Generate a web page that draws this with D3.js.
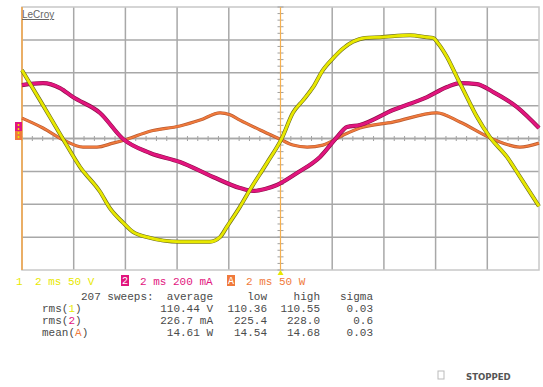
<!DOCTYPE html>
<html><head><meta charset="utf-8">
<script src="https://cdn.jsdelivr.net/npm/d3@7"></script>
<style>body{margin:0;background:#fff}svg{display:block}</style>
</head><body>
<script>
// Trace 1: voltage (V), time in ms
const timeV = [0,0.70,1.59,2.24,3.02,3.40,3.91,4.29,4.84,6.11,7.27,7.66,7.93,8.43,8.82,9.48,10.06,10.48,10.87,11.26,11.64,12.03,12.42,12.80,13.27,13.85,15.01,15.67,15.90,16.09,16.44,16.83,17.21,17.60,18.10,18.76,19.26,20];
const voltage = [104,58,-1,-43,-81,-106,-128,-142,-150,-157,-157,-150,-134,-104,-78,-37,1,39,58,78,104,122,137,147,153,154,157,154,153,145,124,93,63,33,2,-28,-58,-103];
// Trace 2: current (mA)
const timeI = [0,0.81,1.47,1.97,3.02,3.91,4.95,6.11,7.39,8.43,8.94,9.40,9.86,10.64,11.53,12.19,12.57,13.07,14.35,15.67,16.44,16.94,17.60,18.22,19.15,20];
const current = [325,337,307,252,155,-3,-88,-143,-234,-301,-319,-307,-283,-210,-112,9,70,82,173,252,313,337,331,283,191,64];
// Trace A: power (W)
const timeP = [0,0.81,1.59,2.36,2.90,3.52,4.06,4.95,6.11,6.89,7.66,8.05,8.43,9.21,9.98,10.48,11.03,11.64,12.42,13.07,14.35,16.05,16.94,18.22,19.26,20];
const power = [31,16,-2,-13,-13,-7,-1,11,19,28,39,36,28,13,-1,-10,-13,-10,5,16,25,39,25,-1,-13,-7];

const channelLabels = ["2 ms 50 V", "2 ms 200 mA", "2 ms 50 W"];
const measHeader = ["207 sweeps:  average", "low", "high", "sigma"];
const measNames = [["rms(", "1", ")"], ["rms(", "2", ")"], ["mean(", "A", ")"]];
const measAverage = ["110.44 V", "226.7 mA", "14.61 W"];
const measLow = ["110.36", "225.4", "14.54"];
const measHigh = ["110.55", "228.0", "14.68"];
const measSigma = ["0.03", "0.6", "0.03"];

const W = 543, H = 387;
const cYel = "#e8e800", cMag = "#e2157e", cOra = "#f07a3c", cTxt = "#4a4a4a";
const svg = d3.select("body").append("svg").attr("width", W).attr("height", H);
svg.append("rect").attr("width", W).attr("height", H).attr("fill", "#fff");

const x = d3.scaleLinear().domain([0, 20]).range([22, 539]);
const yV = d3.scaleLinear().domain([-200, 200]).range([270, 7]);
const yI = d3.scaleLinear().domain([-800, 800]).range([270, 7]);
const yP = d3.scaleLinear().domain([-200, 200]).range([270, 7]);

// grid
const g = svg.append("g");
d3.range(1, 10).forEach(i => {
  if (i === 5) return;
  g.append("line").attr("x1", x(i*2)).attr("x2", x(i*2)).attr("y1", yV(200)).attr("y2", yV(-200))
    .attr("stroke", "#a8a8a8").attr("stroke-width", 1.5);
});
d3.range(-3, 4).forEach(j => {
  g.append("line").attr("x1", x(0)).attr("x2", x(20)).attr("y1", yV(j*50)).attr("y2", yV(j*50))
    .attr("stroke", "#a8a8a8").attr("stroke-width", 1.5);
});
// frame
g.append("rect").attr("x", x(0)).attr("y", yV(200)).attr("width", x(20)-x(0)).attr("height", yV(-200)-yV(200))
  .attr("fill", "none").attr("stroke", "#c8c8c8").attr("stroke-width", 1.5);
// center minor ticks
d3.range(0, 20.001, 0.4).forEach(t => {
  g.append("line").attr("x1", x(t)).attr("x2", x(t)).attr("y1", yV(0)-2.5).attr("y2", yV(0)+2.5)
    .attr("stroke", "#a0a0a0").attr("stroke-width", 1);
});
d3.range(-200, 200.001, 10).forEach(v => {
  g.append("line").attr("x1", x(10)-3).attr("x2", x(10)+3).attr("y1", yV(v)).attr("y2", yV(v))
    .attr("stroke", "#a0a0a0").attr("stroke-width", 1);
});
// center horizontal axis
g.append("line").attr("x1", x(0)).attr("x2", x(20)).attr("y1", yV(0)).attr("y2", yV(0))
  .attr("stroke", "#a8a8a8").attr("stroke-width", 1.5);
// trigger line (orange) at center and left edge orange
g.append("line").attr("x1", x(10)).attr("x2", x(10)).attr("y1", yV(200)).attr("y2", yV(-200))
  .attr("stroke", "#f5b050").attr("stroke-width", 1.2);
g.append("line").attr("x1", x(0)).attr("x2", x(0)).attr("y1", yV(200)).attr("y2", yV(-200))
  .attr("stroke", "#f0a040").attr("stroke-width", 1.5);

// traces
function trace(ts, vs, ys, color, dark, w) {
  const line = d3.line().x((d, i) => x(ts[i])).y(d => ys(d)).curve(d3.curveMonotoneX);
  svg.append("path").datum(vs).attr("d", line).attr("fill", "none").attr("stroke", dark)
    .attr("stroke-width", w + 1.2).attr("stroke-linejoin", "round");
  svg.append("path").datum(vs).attr("d", line).attr("fill", "none").attr("stroke", color)
    .attr("stroke-width", w).attr("stroke-linejoin", "round");
}
trace(timeP, power, yP, cOra, "#b85a30", 2);
trace(timeI, current, yI, cMag, "#8a1048", 3);
trace(timeV, voltage, yV, cYel, "#6a6a20", 2.8);

// left marker
svg.append("rect").attr("x", 15).attr("y", 122).attr("width", 7).attr("height", 9).attr("fill", cMag);
svg.append("rect").attr("x", 15).attr("y", 131).attr("width", 7).attr("height", 9).attr("fill", cOra);
svg.append("line").attr("x1", 18.5).attr("x2", 18.5).attr("y1", 124).attr("y2", 139)
  .attr("stroke", cYel).attr("stroke-width", 1.5).attr("stroke-dasharray", "2,2");
// trigger triangle
svg.append("path").attr("d", `M${x(10)-3},275 L${x(10)+3},275 L${x(10)},270 Z`).attr("fill", cYel);

// LeCroy
svg.append("text").attr("x", 22).attr("y", 18).text("LeCroy")
  .attr("font-family", "Liberation Sans, Arial, sans-serif").attr("font-size", 10)
  .attr("fill", "#666").attr("text-decoration", "underline");

const mono = "Liberation Mono, DejaVu Sans Mono, monospace";
function txt(xp, yp, s, color, anchor) {
  return svg.append("text").attr("x", xp).attr("y", yp).text(s).attr("font-family", mono)
    .attr("font-size", 11).attr("fill", color).attr("text-anchor", anchor || "start");
}
// channel row
txt(16, 285, "1", cYel);
txt(35, 285, channelLabels[0], cYel);
svg.append("rect").attr("x", 121).attr("y", 275).attr("width", 8).attr("height", 11).attr("fill", cMag);
txt(125, 284, "2", "#fff", "middle").attr("font-size", 10);
txt(140, 285, channelLabels[1], cMag);
svg.append("rect").attr("x", 227).attr("y", 275).attr("width", 8).attr("height", 11).attr("fill", cOra);
txt(231, 284, "A", "#fff", "middle").attr("font-size", 10);
txt(246, 285, channelLabels[2], cOra);

// measurements
const colEnds = [213, 267, 320, 373];
txt(colEnds[0], 300, measHeader[0], cTxt, "end").attr("xml:space", "preserve").style("white-space", "pre");
txt(colEnds[1], 300, measHeader[1], cTxt, "end");
txt(colEnds[2], 300, measHeader[2], cTxt, "end");
txt(colEnds[3], 300, measHeader[3], cTxt, "end");
const chColors = [cYel, cMag, cOra];
measNames.forEach((nm, i) => {
  const yb = 312 + i * 12;
  const t = svg.append("text").attr("x", 42).attr("y", yb).attr("font-family", mono).attr("font-size", 11);
  t.append("tspan").text(nm[0]).attr("fill", cTxt);
  t.append("tspan").text(nm[1]).attr("fill", chColors[i]);
  t.append("tspan").text(nm[2]).attr("fill", cTxt);
  txt(colEnds[0], yb, measAverage[i], cTxt, "end");
  txt(colEnds[1], yb, measLow[i], cTxt, "end");
  txt(colEnds[2], yb, measHigh[i], cTxt, "end");
  txt(colEnds[3], yb, measSigma[i], cTxt, "end");
});

// STOPPED
svg.append("rect").attr("x", 438).attr("y", 371).attr("width", 6).attr("height", 8)
  .attr("fill", "none").attr("stroke", "#bbb").attr("stroke-width", 1);
svg.append("text").attr("x", 466).attr("y", 380).text("STOPPED").attr("font-family", "DejaVu Sans Condensed, DejaVu Sans, sans-serif")
  .attr("font-size", 9.5).attr("font-weight", "bold").attr("fill", "#555");
</script>
</body></html>
